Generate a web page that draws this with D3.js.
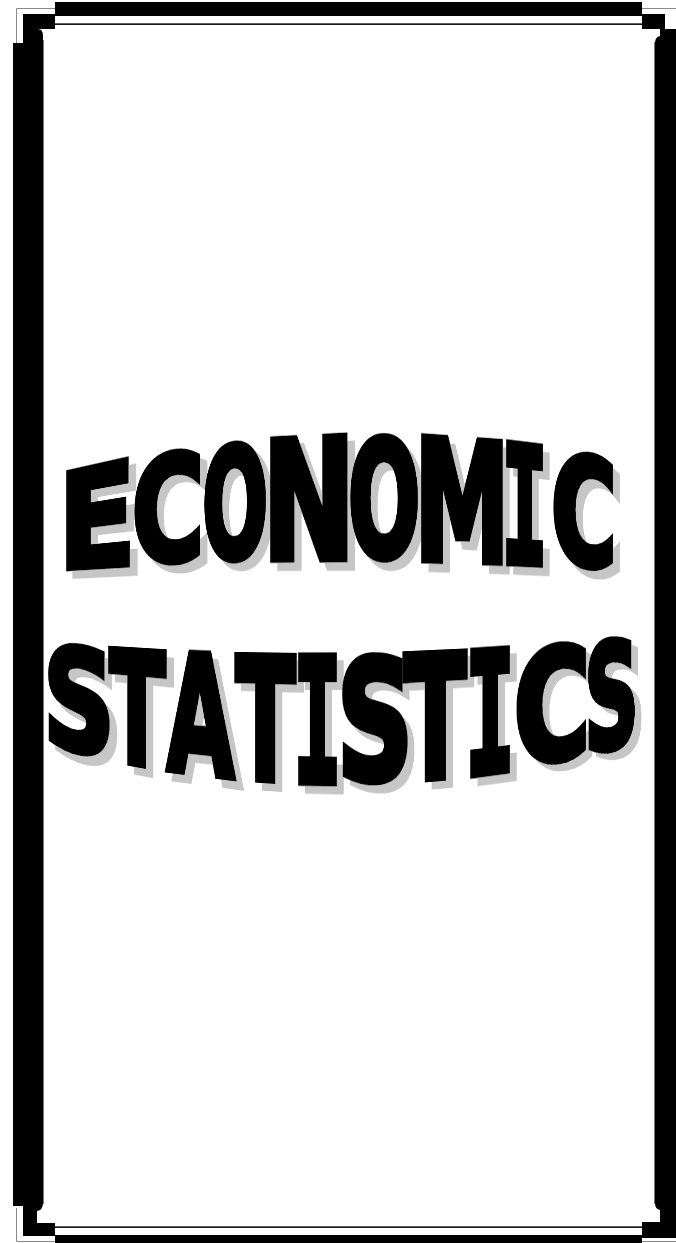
<!DOCTYPE html>
<html><head><meta charset="utf-8">
<script src="https://cdn.jsdelivr.net/npm/d3@7"></script>
<style>
html,body{margin:0;padding:0;background:#fff;}
#page{position:relative;width:676px;height:1243px;overflow:hidden;background:#fff;}
.glyph{position:absolute;left:0;top:0;transform-origin:0 0;}
.glyph svg{display:block;overflow:visible;}
</style></head><body><div id="page"></div>
<script>
// ---- data ----
const line1Letters = ["E","C","O","N","O","M","I","C"];
const line1Left    = [66, 134, 204, 270, 350, 421, 506, 553];
const line1Right   = [130, 200, 266, 348, 418, 503, 543, 613];
const line1TopEnv  = [[66, 470], [340, 432], [613, 455]];
const line1BotEnv  = [[66, 571], [340, 562], [613, 572]];

const line2Letters = ["S","T","A","T","I","S","T","I","C","S"];
const line2Left    = [48, 108, 165, 234, 298, 342, 402, 470, 516, 588];
const line2Right   = [110, 167, 236, 297, 337, 408, 468, 510, 586, 635];
const line2TopEnv  = [[48, 640], [320, 652], [635, 633]];
const line2BotEnv  = [[48, 748], [320, 786], [635, 747]];

const shadowOffset = [7, 8];

// ---- helpers ----
function envelope(pts){ // quadratic through three points
  const [[xa,ya],[xb,yb],[xc,yc]] = pts;
  return x => ya*(x-xb)*(x-xc)/((xa-xb)*(xa-xc)) + yb*(x-xa)*(x-xc)/((xb-xa)*(xb-xc)) + yc*(x-xa)*(x-xb)/((xc-xa)*(xc-xb));
}
function homography(W,H,p){
  const [x0,y0]=p[0],[x1,y1]=p[1],[x2,y2]=p[2],[x3,y3]=p[3];
  const dx1=x1-x2, dx2=x3-x2, dx3=x0-x1+x2-x3, dy1=y1-y2, dy2=y3-y2, dy3=y0-y1+y2-y3;
  let g=0,h=0;
  const den=dx1*dy2-dx2*dy1;
  if (Math.abs(dx3)>1e-9||Math.abs(dy3)>1e-9){ g=(dx3*dy2-dx2*dy3)/den; h=(dx1*dy3-dx3*dy1)/den; }
  const a=x1-x0+g*x1, b=x3-x0+h*x3, c=x0, d=y1-y0+g*y1, e=y3-y0+h*y3, f=y0;
  return `matrix3d(${a/W},${d/W},0,${g/W},${b/H},${e/H},0,${h/H},0,0,1,0,${c},${f},0,1)`;
}

const page = d3.select("#page");

// ---- border ----
const svg = page.append("svg").attr("width",676).attr("height",1243)
  .style("position","absolute").style("left","0").style("top","0");

const gray = "#8a8a8a";
svg.append("path").attr("d","M16.5,43 V8.5 H56").attr("fill","none").attr("stroke",gray).attr("stroke-width",1);
svg.append("path").attr("d","M641,8.5 H676").attr("fill","none").attr("stroke",gray).attr("stroke-width",1);
svg.append("path").attr("d","M16.5,1208 V1241.5 H56").attr("fill","none").attr("stroke",gray).attr("stroke-width",1);
svg.append("path").attr("d","M641,1241.5 H676").attr("fill","none").attr("stroke",gray).attr("stroke-width",1);

svg.append("rect").attr("x",55).attr("y",2).attr("width",587).attr("height",14).attr("fill","#000");
svg.append("rect").attr("x",55).attr("y",23.3).attr("width",587).attr("height",1.7).attr("fill","#1a1a1a");
svg.append("rect").attr("x",55).attr("y",1235).attr("width",587).attr("height",10).attr("fill","#000");
svg.append("rect").attr("x",55).attr("y",1226.3).attr("width",587).attr("height",1.7).attr("fill","#1a1a1a");

svg.append("path").attr("fill","#000").attr("d",
  "M23,14 H55 V29 H38 Q43,29 43,36 V1203 Q43,1210 37,1211 V1223 H55 V1236 H23 V1206 H13 V43 H23 Z");
svg.append("line").attr("x1",43.5).attr("x2",43.5).attr("y1",40).attr("y2",1204).attr("stroke","#777").attr("stroke-width",1);

svg.append("path").attr("fill","#000").attr("d","M642,14 H665 V29 H642 Z");
svg.append("path").attr("fill","#000").attr("d",
  "M680,29 H660 V36 Q655,37 655,43 V1203 Q655,1209 660,1210 V1222 H642 V1238 H680 Z");
svg.append("line").attr("x1",654.5).attr("x2",654.5).attr("y1",42).attr("y2",1204).attr("stroke","#777").attr("stroke-width",1);

// ---- WordArt letters ----
const cnv = document.createElement("canvas").getContext("2d");
const FS = 200, STROKE = 9;
function fontFor(ch){ return ch==="I" ? "'DejaVu Sans Mono'" : "'DejaVu Sans'"; }

function buildLine(letters, lefts, rights, topEnv, botEnv){
  const top = envelope(topEnv), bot = envelope(botEnv);
  return letters.map((ch,i)=>{
    const x0=lefts[i], x1=rights[i];
    return {ch, quad:[[x0,top(x0)],[x1,top(x1)],[x1,bot(x1)],[x0,bot(x0)]]};
  });
}
const glyphs = buildLine(line1Letters,line1Left,line1Right,line1TopEnv,line1BotEnv)
  .concat(buildLine(line2Letters,line2Left,line2Right,line2TopEnv,line2BotEnv));

glyphs.forEach((gd,i)=>{
  const fam = fontFor(gd.ch);
  cnv.font = `bold ${FS}px ${fam}`;
  const m = cnv.measureText(gd.ch);
  const L = m.actualBoundingBoxLeft + STROKE/2, R = m.actualBoundingBoxRight + STROKE/2;
  const A = m.actualBoundingBoxAscent + STROKE/2, D = m.actualBoundingBoxDescent + STROKE/2;
  const W = L+R, H = A+D;
  const q = gd.quad;
  const sx = (q[1][0]-q[0][0])/W, sy = ((q[3][1]-q[0][1])+(q[2][1]-q[1][1]))/2/H;
  const div = page.append("div").attr("class","glyph")
    .style("width",W+"px").style("height",H+"px")
    .style("transform",homography(W,H,q));
  const s = div.append("svg").attr("width",W).attr("height",H);
  const f = s.append("defs").append("filter").attr("id","sh"+i)
    .attr("x","-40%").attr("y","-40%").attr("width","180%").attr("height","180%");
  f.append("feOffset").attr("in","SourceAlpha").attr("dx",shadowOffset[0]/sx).attr("dy",shadowOffset[1]/sy).attr("result","o");
  f.append("feFlood").attr("flood-color","#c6c6c6").attr("result","c");
  f.append("feComposite").attr("in","c").attr("in2","o").attr("operator","in").attr("result","s");
  const mg = f.append("feMerge");
  mg.append("feMergeNode").attr("in","s");
  mg.append("feMergeNode").attr("in","SourceGraphic");
  s.append("text").attr("x",L).attr("y",A)
    .attr("font-family",fam).attr("font-weight","bold").attr("font-size",FS)
    .attr("fill","#000").attr("stroke","#000").attr("stroke-width",STROKE)
    .attr("stroke-linejoin","miter").attr("stroke-miterlimit",4)
    .attr("filter",`url(#sh${i})`).text(gd.ch);
});
</script></body></html>
